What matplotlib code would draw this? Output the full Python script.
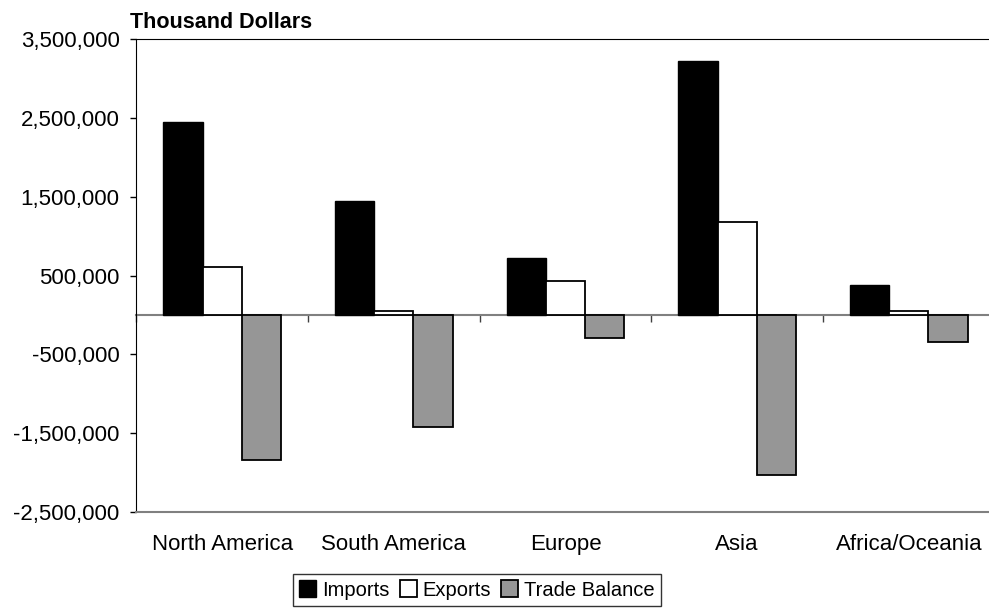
import numpy as np
import matplotlib.pyplot as plt
from matplotlib.ticker import FuncFormatter

plt.rcParams['font.family'] = ['Liberation Sans', 'DejaVu Sans']

regions = ['North America', 'South America', 'Europe', 'Asia', 'Africa/Oceania']
imports = [2449000, 1449000, 720000, 3221000, 375000]
exports = [607000, 48000, 430000, 1179000, 48000]
trade_balance = [-1849000, -1425000, -300000, -2035000, -346000]
series_names = ['Imports', 'Exports', 'Trade Balance']
y_ticks = [-2500000, -1500000, -500000, 500000, 1500000, 2500000, 3500000]

fig = plt.figure(figsize=(9.89, 6.10), dpi=100)
ax = fig.add_axes([0.1378, 0.1611, 0.868, 0.7745])

x = np.arange(len(regions))
w = 0.228
ax.bar(x - w, imports, w, color='black', edgecolor='black', linewidth=1.0, label=series_names[0])
ax.bar(x, exports, w, color='white', edgecolor='black', linewidth=1.3, label=series_names[1])
ax.bar(x + w, trade_balance, w, color='#969696', edgecolor='black', linewidth=1.3, label=series_names[2])

ax.set_xlim(-0.5, len(regions) - 0.5)
ax.set_ylim(-2500000, 3500000)
ax.set_yticks(y_ticks)
ax.yaxis.set_major_formatter(FuncFormatter(lambda v, p: f'{int(v):,}'))
ax.tick_params(axis='y', length=4, width=1, pad=8, labelsize=16, colors='black')

ax.set_xticks(x)
ax.set_xticklabels(regions, fontsize=16)
ax.tick_params(axis='x', length=0, pad=16)

ax.spines['right'].set_visible(False)
ax.spines['left'].set_color('black')
ax.spines['top'].set_color('black')
ax.spines['bottom'].set_color('#808080')
ax.spines['bottom'].set_linewidth(1.5)

# zero line with category separator ticks
zero_frac = 2500000 / 6000000
sec = ax.secondary_xaxis(zero_frac)
sec.set_xticks(np.arange(len(regions) + 1) - 0.5)
sec.set_xticklabels([])
sec.spines['bottom'].set_color('#808080')
sec.spines['bottom'].set_linewidth(1.5)
sec.spines['top'].set_visible(False)
sec.xaxis.set_ticks_position('bottom')
sec.tick_params(axis='x', direction='out', length=5, width=1, color='#404040')

fig.text(130 / 989, 1 - 28.5 / 610, 'Thousand Dollars', fontsize=15.5, fontweight='bold',
         ha='left', va='baseline')

leg = fig.legend(loc='center', bbox_to_anchor=(477 / 989, 1 - 590 / 610), ncol=3,
                 fontsize=14.5, frameon=True, fancybox=False, edgecolor='black',
                 handlelength=0.85, handleheight=0.85, handletextpad=0.3,
                 columnspacing=0.5, borderpad=0.3, borderaxespad=0)
leg.get_frame().set_linewidth(1.0)

fig.savefig('out.png', dpi=100)
